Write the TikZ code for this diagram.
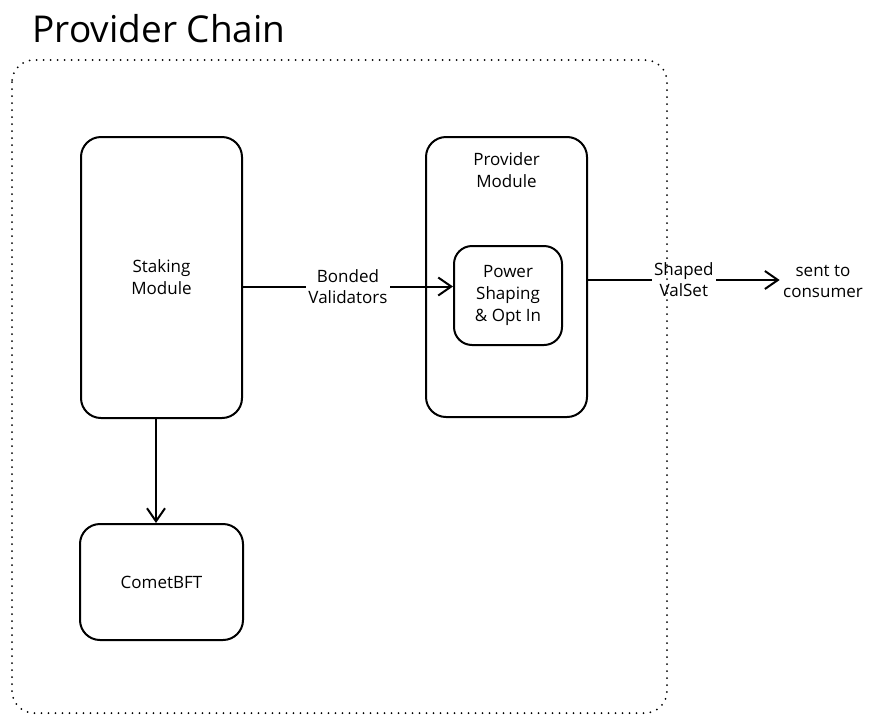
\documentclass[tikz,border=0pt]{standalone}
\usepackage{fontspec}
\setmainfont{Open Sans}
\usetikzlibrary{positioning, arrows.meta}
\tikzset{
	x=1pt, y=-1pt, % one unit is one pixel of the sketch
	>={Straight Barb[length=13pt,width=18pt,line width=2pt]}, % open hand-drawn heads
	module/.style={draw, line width=2pt, rounded corners=20pt, align=center, font=\fontsize{17}{22}\selectfont}, % the boxes
	flow/.style={->, line width=2pt}, % the connectors
	tag/.style={fill=white, align=center, inner sep=2pt, font=\fontsize{17}{21}\selectfont}, % texts on the connectors
}
\begin{document}
\begin{tikzpicture}
	\useasboundingbox (0,0) rectangle (874,723);
	\node[font=\fontsize{37}{40}\selectfont] (title) at (159,29) {Provider Chain};
	\node[module, minimum width=161pt, minimum height=281pt] (staking) at (161.5,277.5) {Staking\\Module};
	\node[module, minimum width=163pt, minimum height=116pt] (comet) at (161.5,582) {CometBFT};
	\node[module, minimum width=161pt, minimum height=280pt,
		label={[font=\fontsize{17}{22}\selectfont, align=center, anchor=north, yshift=-13pt]north:Provider\\Module}] (provider) at (506.5,277) {};
	\node[module, rounded corners=18pt, minimum width=108pt, minimum height=99pt] (shaping) at (508,295.5) {Power\\Shaping\\\& Opt In};
	\node[align=center, font=\fontsize{17}{21}\selectfont] (sent) at (823,281) {sent to\\consumer};
	\draw[flow] (staking.south -| 156,0) -- (comet.north -| 156,0);
	\draw[flow] ([yshift=-9pt]staking.east) -- node[tag] {Bonded\\Validators} ([yshift=-9pt]staking.east -| shaping.west);
	\draw[flow] ([yshift=-3pt]provider.east) -- node[tag, pos=0.5] {Shaped\\ValSet} ([yshift=-3pt]provider.east -| sent.west);
	% the chain itself, drawn last
	\draw[line width=2pt, line cap=round, dash pattern=on 0pt off 7pt, rounded corners=22pt] (12,60) rectangle (667,713);
\end{tikzpicture}
\end{document}
